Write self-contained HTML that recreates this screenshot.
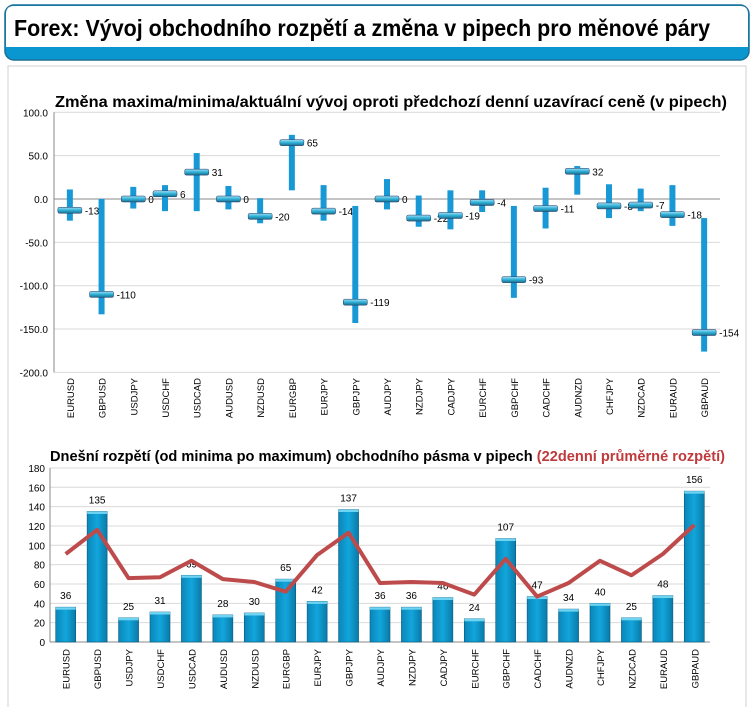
<!DOCTYPE html>
<html><head><meta charset="utf-8"><style>
body{margin:0;width:754px;height:707px;background:#fff;overflow:hidden;font-family:"Liberation Sans",sans-serif;}
</style></head><body>
<svg width="754" height="707" xmlns="http://www.w3.org/2000/svg" font-family="Liberation Sans, sans-serif">
<defs>
<linearGradient id="cap" x1="0" y1="0" x2="0" y2="1"><stop offset="0" stop-color="#9fe0f2"/><stop offset="0.5" stop-color="#2fb0d8"/><stop offset="1" stop-color="#1a6f8a"/></linearGradient>
<linearGradient id="bar" x1="0" y1="0" x2="1" y2="0"><stop offset="0" stop-color="#0a86b8"/><stop offset="0.5" stop-color="#12a6dc"/><stop offset="1" stop-color="#0a7aa8"/></linearGradient>
</defs>
<g>
<rect x="5" y="5" width="744" height="55" rx="9" fill="#0a96cf" stroke="#1a6f9a" stroke-width="1.5"/>
<path d="M6 47 V14 Q6 6 14 6 H740 Q748 6 748 14 V47 Z" fill="#fff"/>
<text x="14" y="36" font-size="23" font-weight="bold" fill="#000" textLength="696" lengthAdjust="spacingAndGlyphs">Forex: Vývoj obchodního rozpětí a změna v pipech pro měnové páry</text>
</g>
<rect x="8" y="66" width="738" height="650" fill="#fff" stroke="#d0d0d0"/>
<text x="55" y="107" font-size="15.5" font-weight="bold" textLength="672" lengthAdjust="spacingAndGlyphs">Změna maxima/minima/aktuální vývoj oproti předchozí denní uzavírací ceně (v pipech)</text>
<text x="50" y="461" font-size="14.5" font-weight="bold" textLength="675" lengthAdjust="spacingAndGlyphs">Dnešní rozpětí (od minima po maximum) obchodního pásma v pipech <tspan fill="#c0393b">(22denní průměrné rozpětí)</tspan></text>
<g id="top"></g>
<g id="bot"></g>
</svg>
<script>
const cats=["EURUSD","GBPUSD","USDJPY","USDCHF","USDCAD","AUDUSD","NZDUSD","EURGBP","EURJPY","GBPJPY","AUDJPY","NZDJPY","CADJPY","EURCHF","GBPCHF","CADCHF","AUDNZD","CHFJPY","NZDCAD","EURAUD","GBPAUD"];
const curVals=[-13,-110,0,6,31,0,-20,65,-14,-119,0,-22,-19,-4,-93,-11,32,-8,-7,-18,-154];
const highVals=[11,0,14,16,53,15,1,74,16,-8,23,4,10,10,-8,13,38,17,12,16,-22];
const lowVals=[-25,-133,-11,-14,-14,-12,-28,10,-25,-143,-12,-32,-35,-15,-114,-34,5,-22,-14,-31,-176];
const topTicks=[100,50,0,-50,-100,-150,-200];
const rangeVals=[36,135,25,31,69,28,30,65,42,137,36,36,46,24,107,47,34,40,25,48,156];
const avgVals=[91,116,66,67,84,65,62,52,90,113,61,62,61,49,86,47,61,84,69,91,121];
const botTicks=[0,20,40,60,80,100,120,140,160,180];
const NS="http://www.w3.org/2000/svg";
function mk(p,t,a,txt){const e=document.createElementNS(NS,t);for(const k in a)e.setAttribute(k,a[k]);if(txt!==undefined)e.textContent=txt;p.appendChild(e);return e;}
// top chart
const T=document.getElementById('top');
const tx0=54,tx1=720,ty=v=>199-v*0.867;const tcw=(tx1-tx0)/cats.length;const tcx=i=>tx0+tcw*(i+0.5);
topTicks.forEach(t=>{
 const g=mk(T,'line',{x1:tx0,x2:tx1,y1:ty(t),y2:ty(t),stroke:t===0?'#888':'#d9d9d9'});
 
 const l=mk(T,'text',{x:tx0-6,y:ty(t)+4,'text-anchor':'end','font-size':'10'},t.toFixed(1));
 
});
mk(T,'line',{x1:tx0,x2:tx0,y1:ty(100),y2:ty(-200),stroke:'#888'});
cats.forEach((c,i)=>{
 const x=tcx(i);
 const w=mk(T,'rect',{x:x-3,y:ty(highVals[i]),width:6,height:ty(lowVals[i])-ty(highVals[i]),fill:'#1899d6'});
 
 const m=mk(T,'rect',{x:x-12,y:ty(curVals[i])-3,width:24,height:6,rx:1.5,fill:'url(#cap)',stroke:'#236',"stroke-width":'0.5'});
 
 const v=mk(T,'text',{x:x+15,y:ty(curVals[i])+4,'font-size':'10'},String(curVals[i]));
 
 const l=mk(T,'text',{x:0,y:0,'font-size':'9.5','text-anchor':'end',transform:`translate(${x+4},378) rotate(-90)`},c);
 
});
// bottom chart
const B=document.getElementById('bot');
const bx0=50,bx1=710,by=v=>642-v*0.967;const bcw=(bx1-bx0)/cats.length;const bcx=i=>bx0+bcw*(i+0.5);
botTicks.forEach(t=>{
 if(t>0){const g=mk(B,'line',{x1:bx0,x2:bx1,y1:by(t),y2:by(t),stroke:'#d9d9d9'});
 }
 const l=mk(B,'text',{x:bx0-5,y:by(t)+4,'text-anchor':'end','font-size':'10'},String(t));
 
});
mk(B,'line',{x1:bx0,x2:bx0,y1:by(180),y2:by(0),stroke:'#888'});
mk(B,'line',{x1:bx0,x2:bx1,y1:by(0),y2:by(0),stroke:'#888'});
cats.forEach((c,i)=>{
 const x=bcx(i);
 const r=mk(B,'rect',{x:x-10,y:by(rangeVals[i]),width:20,height:by(0)-by(rangeVals[i]),fill:'url(#bar)',stroke:'#075a7d','stroke-width':'0.6'});
 
 mk(B,'rect',{x:x-10,y:by(rangeVals[i]),width:20,height:2.5,fill:'#6fd3f2'});
 const v=mk(B,'text',{x:x,y:by(rangeVals[i])-8,'text-anchor':'middle','font-size':'10'},String(rangeVals[i]));
 
 const l=mk(B,'text',{x:0,y:0,'font-size':'9.5','text-anchor':'end',transform:`translate(${x+4},649) rotate(-90)`},c);
 
});
const pl=mk(B,'polyline',{points:avgVals.map((v,i)=>bcx(i)+','+by(v)).join(' '),fill:'none',stroke:'#bd4b4b','stroke-width':'4','stroke-linejoin':'round'});


</script>
</body></html>
